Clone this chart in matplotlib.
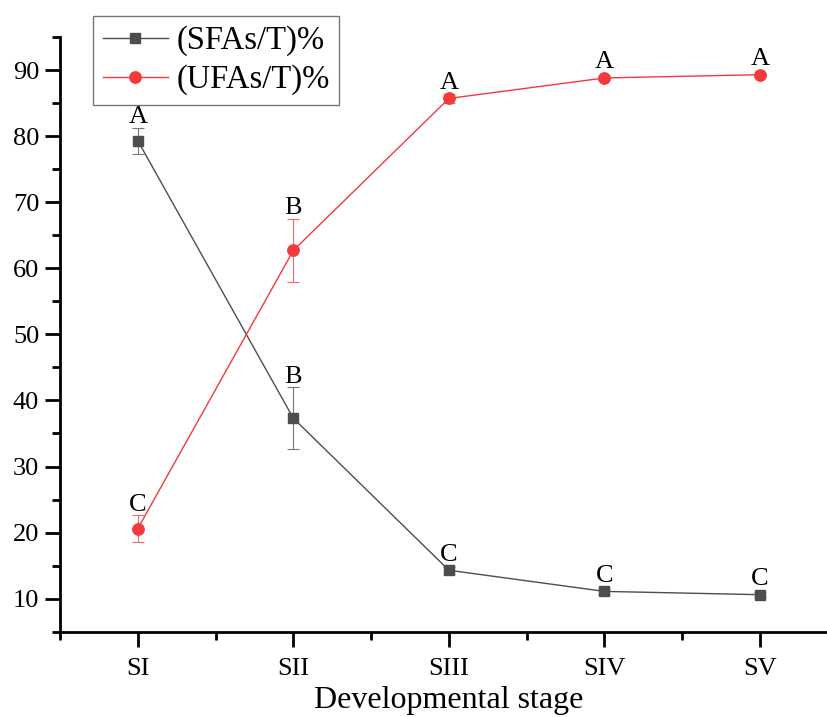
import matplotlib
matplotlib.use('Agg')
from matplotlib import pyplot as plt
from matplotlib.ticker import MultipleLocator
from matplotlib.lines import Line2D

plt.rcParams['font.family'] = ['Liberation Serif', 'DejaVu Serif']

stages = ['SI', 'SII', 'SIII', 'SIV', 'SV']
sfa = [79.3, 37.3, 14.3, 11.1, 10.6]
sfa_err = [2.0, 4.7, 0.5, 0.4, 0.4]
sfa_letters = ['A', 'B', 'C', 'C', 'C']
ufa = [20.6, 62.7, 85.7, 88.8, 89.3]
ufa_err = [2.0, 4.8, 0.7, 0.3, 0.3]
ufa_letters = ['C', 'B', 'A', 'A', 'A']

gray = '#4d4d4d'
red = '#f23a3c'

fig = plt.figure(figsize=(8.27, 7.17), dpi=100)
ax = fig.add_axes([60/827, (717-631.7)/717, (837.8-60)/827, (631.7-37)/717])

x = list(range(1, len(stages)+1))

ax.errorbar(x, sfa, yerr=sfa_err, color=gray, marker='s', ms=7.8, lw=1.0,
            elinewidth=0.8, capsize=4.5, capthick=0.8, ecolor='#777777', zorder=3)
ax.errorbar(x, ufa, yerr=ufa_err, color=red, marker='o', ms=8.2, lw=1.0,
            elinewidth=0.8, capsize=4.5, capthick=0.8, ecolor='#f26a6a', zorder=3)

for xi, v, e, t in zip(x, sfa, sfa_err, sfa_letters):
    ax.text(xi, v + max(e, 0.8) - 0.1, t, ha='center', va='bottom', fontsize=19)
for xi, v, e, t in zip(x, ufa, ufa_err, ufa_letters):
    ax.text(xi, v + max(e, 0.8) - 0.1, t, ha='center', va='bottom', fontsize=19)

ax.set_xlim(0.5, 5.5)
ax.set_ylim(5, 95)
ax.set_xticks(x)
ax.set_xticklabels(stages)
ax.xaxis.set_minor_locator(MultipleLocator(0.5))
ax.yaxis.set_minor_locator(MultipleLocator(5))
ax.set_yticks([10, 20, 30, 40, 50, 60, 70, 80, 90])

ax.spines['top'].set_visible(False)
ax.spines['right'].set_visible(False)
ax.spines['left'].set_linewidth(2)
ax.spines['bottom'].set_linewidth(2)
ax.tick_params(which='major', direction='out', length=11, width=2, labelsize=19, pad=4)
ax.tick_params(which='minor', direction='out', length=6, width=2)
ax.tick_params(axis='x', which='major', pad=8)

ax.set_xlabel('Developmental stage', fontsize=23, labelpad=4)

handles = [Line2D([], [], color=gray, marker='s', ms=7.8, lw=1.0),
           Line2D([], [], color=red, marker='o', ms=8.2, lw=1.0)]
leg = ax.legend(handles, ['(SFAs/T)%', '(UFAs/T)%'], loc='upper left',
                bbox_to_anchor=(93/827, 1-15.7/717), bbox_transform=fig.transFigure,
                fontsize=23.5, frameon=True, fancybox=False, edgecolor='#555555',
                handlelength=2.0, handletextpad=0.25, borderpad=0.3, labelspacing=0.25,
                borderaxespad=0)
leg.get_frame().set_linewidth(1.0)

fig.savefig('out.png', dpi=100)
